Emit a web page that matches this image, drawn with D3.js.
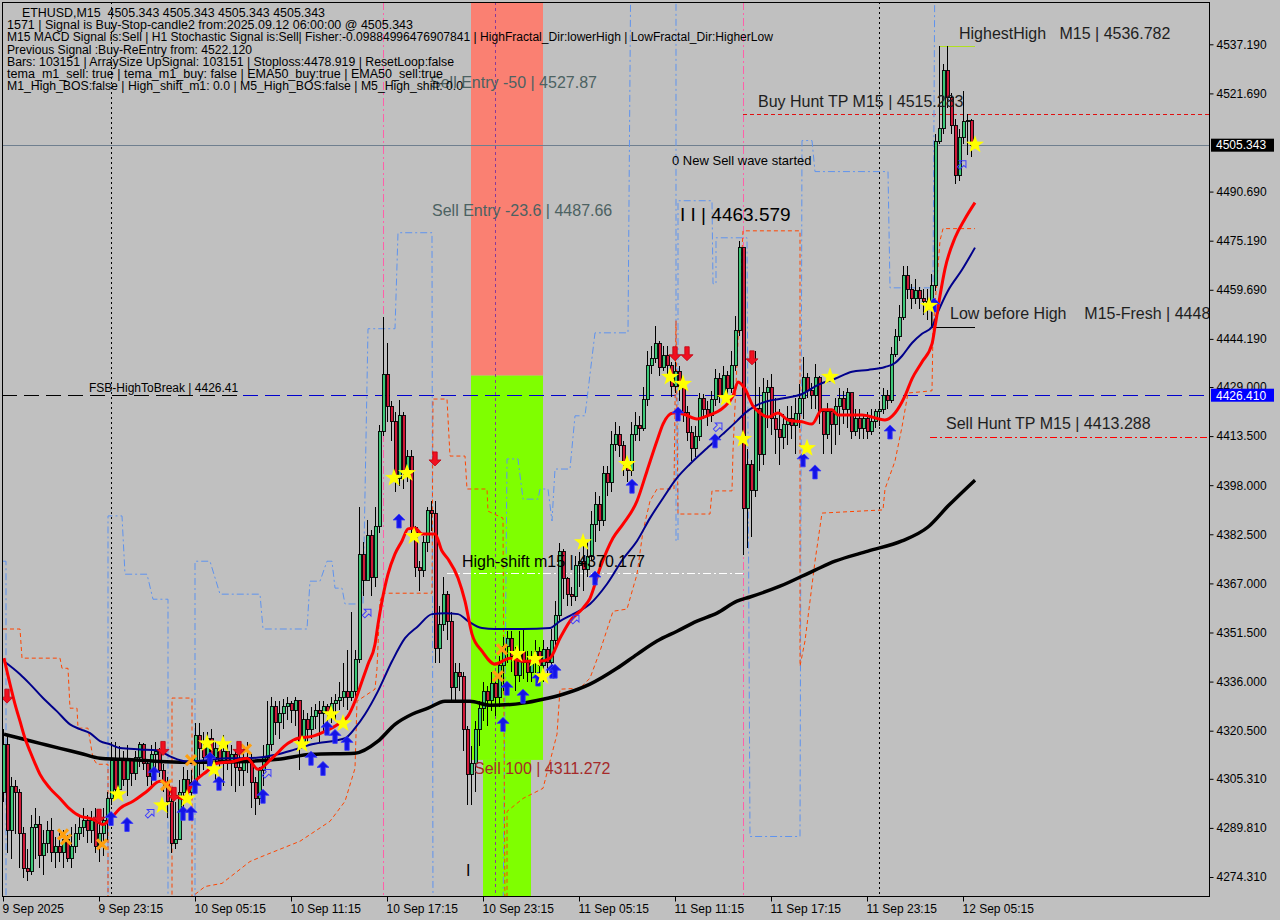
<!DOCTYPE html>
<html><head><meta charset="utf-8"><title>ETHUSD,M15</title>
<script src="https://cdn.jsdelivr.net/npm/d3@7/dist/d3.min.js"></script>
<style>
html,body{margin:0;padding:0;background:#c0c0c0;overflow:hidden}
svg{display:block}
text{font-family:"Liberation Sans",Arial,sans-serif;white-space:pre}
</style></head><body>
<svg id="chart" width="1280" height="920"></svg>
<script>
// ---------------- DATA ----------------
const timeTickBars = [0,24,48,72,96,120,144,168,192,216,240];
const timeTickLabels = ["9 Sep 2025","9 Sep 23:15","10 Sep 05:15","10 Sep 11:15","10 Sep 17:15","10 Sep 23:15","11 Sep 05:15","11 Sep 11:15","11 Sep 17:15","11 Sep 23:15","12 Sep 05:15"];
const priceTicks = [4537.19,4521.69,4490.69,4475.19,4459.69,4444.19,4429.0,4413.5,4398.0,4382.5,4367.0,4351.5,4336.0,4320.5,4305.31,4289.81,4274.31];
const lastPrice = 4505.343;
const fsbLevel = 4426.41;
const buyHuntTP = 4515.283;
const sellHuntTP = 4413.288;
const highShift = 4370.177;
const highestHigh = 4536.782;
const lowBeforeHigh = 4448;
const sell100 = 4311.272;
const zoneSplit = 4432.6;

const firstOpen = 4301;
const closes = [4316,4289,4303,4301,4288,4277,4276,4290,4291,4281,4285,4289,4282,4284,4282,4286,4280,4284,4288,4290,
4292,4289,4292,4284,4288,4292,4299,4311,4302,4311,4305,4311,4307,4312,4316,4310,4306,4313,4314,4308,
4304,4298,4285,4286,4301,4305,4301,4304,4319,4315,4312,4318,4312,4315,4311,4314,4311,4313,4309,4308,
4312,4311,4304,4299,4308,4312,4316,4328,4323,4326,4328,4329,4327,4330,4317,4324,4321,4325,4327,4326,
4328,4326,4329,4330,4331,4333,4331,4333,4343,4376,4368,4382,4369,4385,4415,4433,4423,4418,4400,4420,
4402,4407,4384.5,4372,4371,4380,4390,4389,4346.5,4354,4363.6,4355,4334,4339,4337.5,4321,4306.7,4310,4321,4327.6,
4333,4330,4335.5,4331,4341,4347,4349.7,4344,4338,4345.6,4342,4339,4343,4345.6,4341,4346,4342,4349,4357,4377,
4368.7,4363.6,4363,4372.5,4374,4371.5,4375.6,4385.7,4392,4386.7,4401.8,4398.7,4411,4414,4410.4,4405.6,4402.5,4414,4417,4415.8,
4425,4435.7,4437.9,4442.6,4435,4438.8,4435.7,4429.3,4434,4429.3,4420.8,4414.5,4409.7,4413.5,4425.5,4422,4419.9,4425,4431.6,4426,
4432.5,4428.4,4435.7,4446.7,4473,4390.8,4404.5,4396.4,4422.2,4407.7,4427.4,4428.9,4419,4415.7,4413.1,4417.3,4419,4416.7,4420.6,4425.5,
4432,4427.8,4426.4,4432,4421.2,4414.1,4421.2,4417.3,4423,4425.5,4422,4427.2,4414.9,4419,4415.9,4419,4414.9,4418,4421.2,4422,
4426.4,4424.8,4439.4,4445,4451,4464.2,4459.9,4456.8,4459.4,4456.8,4456.1,4453.5,4460.9,4506.6,4510.5,4528.9,4520.3,4511.5,4495.8,4507.8,
4512.7,4513,4505.343];
const highs = [4321,4319,4306,4305,4302,4290,4283,4294,4296,4293.5,4289,4292,4293,4287,4289,4289,4287.5,4290,4291,4294,
4296,4294,4295,4296,4292.5,4296,4301,4317,4317,4315.6,4314,4316,4312,4314,4317,4316.5,4311.5,4316,4317,4315,
4310,4306,4300,4298,4305,4309,4308,4308,4323,4323,4320,4320,4321,4317,4317,4319,4317,4316,4314,4314,
4316,4317,4313,4306,4309,4316,4330,4331,4330,4330,4330.4,4331,4330,4331,4329,4327,4326,4328,4329,4330,
4330,4329,4331,4332,4336,4342,4346,4358,4346,4391,4380,4387,4384,4391,4417,4451,4443,4424.6,4421,4425,
4421,4409,4409,4385,4374,4382,4391,4393,4393,4360,4369,4364.6,4358,4342,4342,4339,4322,4315.6,4323.5,4330,
4336,4334.5,4339,4336,4344,4350,4352,4352,4347,4352,4352.6,4345.6,4345.6,4349,4347,4349,4347,4352.6,4361.4,4379.7,
4377.8,4369,4366,4375.6,4377,4378.8,4380,4390,4396,4394.6,4404,4404,4415,4418,4416.7,4412,4407,4418,4421,4420,
4429,4440.4,4442,4448.3,4443.6,4442,4442,4437,4437,4435.7,4431.5,4423,4416.7,4416.7,4427,4426.8,4424.6,4427.8,4434.7,4433.5,
4435.7,4434,4440.4,4451.5,4475,4473,4409.3,4406,4440.4,4428.9,4432,4431.1,4433,4425.5,4422,4420.6,4423,4423,4425.5,4429.8,
4438.6,4433.5,4430.2,4436.2,4432.6,4422,4423.8,4422,4425.5,4428.7,4427.8,4428.7,4427.2,4422,4422,4420.6,4421.2,4422,4422,4424.5,
4428.7,4428,4441.5,4447.3,4455,4467.2,4467.2,4461.5,4463.2,4460.5,4459.9,4459.9,4464.7,4508.9,4536.8,4531,4536.5,4521.9,4513.7,4510.5,
4522.5,4515.3,4513.7];
const lows = [4298,4282,4280,4288,4277,4274,4273,4275,4280,4277,4275,4282,4279,4277,4279,4277,4279,4277,4282,4286,
4287,4285,4285,4282,4279,4281,4285.6,4297,4300,4300,4303,4300,4303,4305,4309,4308,4303,4302,4308,4306,
4301,4293,4282,4283,4286,4295,4298,4300,4301,4306,4308,4309,4308,4305,4309,4303,4308,4303,4301,4303,
4303,4307,4296,4294,4297,4303,4311,4314,4319,4318,4321,4324,4323,4322,4308,4315,4317,4318,4321,4317,
4320,4322,4323,4324,4327,4328,4327,4330,4330,4342,4363,4368,4363,4366,4383,4413.5,4418,4412,4396,4397.7,
4396.8,4399,4382,4369,4364.6,4369,4377,4383.5,4342,4342,4352,4349,4330,4330,4333,4314,4297,4297,4301,4315.6,
4323.5,4322,4326.6,4325,4328,4333,4342,4339,4333,4336,4336.8,4336,4336,4338.6,4334.5,4336,4338.6,4340,4345.6,4355,
4362,4359.8,4360,4361.4,4366,4364.6,4369,4374,4380,4383.5,4385,4394.6,4396,4408.8,4407,4401,4399,4401,4412,4412,
4415,4423,4433,4436.6,4432.5,4434,4431,4426,4427,4424.6,4418,4412,4405.6,4407,4412,4419,4416.7,4418,4423,4424,
4425.2,4425.9,4427,4434,4445,4376,4378.3,4381.7,4394.3,4402.6,4404.3,4415.9,4414,4407.7,4404.3,4409.3,4410.8,4412.6,4407.7,4415.9,
4419,4425.5,4422,4422,4417.3,4407.7,4412.6,4407.7,4410.8,4413.9,4417.3,4415.9,4412.6,4413.6,4412.6,4412.6,4412.6,4413.9,4415.9,4416.7,
4420.6,4422,4423.8,4438.5,4443.5,4450.2,4456.9,4453.5,4455.2,4453.5,4451.8,4450.2,4448,4459.3,4505.8,4508.9,4517,4508.9,4493.2,4494.1,
4505.8,4502.3,4501.5];

// moving averages: [bar, price]
const emaFast = [[0.25,4343.4],[1.75,4335.2],[3,4328.9],[4.25,4323.5],[5.5,4318.1],[6.75,4314.0],[8,4310.2],[9.25,4306.7],[11.75,4302.3],[14.25,4299.1],
[16.75,4295.7],[19.25,4293.5],[21.75,4292.8],[23.5,4291.9],[25,4290.9],[26.75,4292.5],[29.25,4296.0],[32.5,4298.2],[36,4301.4],[39.25,4304.5],
[41,4303.9],[42.5,4300.4],[45,4299.1],[47.5,4303.9],[51,4307.7],[53.5,4310.2],[57.5,4310.8],[61,4311.8],[63.75,4308.3],[67.25,4311.8],
[71.25,4316.5],[73.75,4318.1],[77.25,4318.7],[80.5,4320.3],[83.75,4322.5],[86.25,4325.1],[88,4329.8],[89.75,4336.1],[91.25,4341.5],[93,4347.8],
[93.75,4354.1],[94.75,4361.4],[96.25,4369.9],[98,4376.3],[99.75,4380.4],[101.25,4384.2],[103,4384.5],[104.75,4382.6],[108,4382.6],[109.75,4377.2],
[111.25,4374.7],[113.75,4368.7],[115.5,4361.4],[117.25,4351.0],[119.75,4345.6],[123,4341.5],[126.75,4343.4],[130,4342.4],[134.25,4342.4],[136.75,4343.4],
[139.25,4349.7],[141.75,4355.1],[145,4359.2],[146.75,4362.3],[149.25,4371.8],[152.5,4381.3],[155,4385.7],[158.5,4393.0],[161,4402.5],[163.5,4412.0],
[165,4417.3],[167.5,4420.8],[170,4420.5],[173.5,4418.9],[176,4419.9],[180,4422.4],[182.5,4426.2],[183.75,4430.6],[185.5,4428.4],[187.5,4423.0],
[189.25,4420.8],[191.25,4419.5],[193.75,4420.8],[196.25,4418.6],[199.75,4418.0],[202.25,4417.3],[204.75,4421.8],[207.25,4421.8],[208.75,4420.2],[214.75,4420.2],
[220.5,4418.6],[223,4420.8],[225.5,4426.2],[227.25,4431.6],[229.75,4436.9],[232.25,4442.6],[233,4448.0],[234.25,4457.8],[235.5,4466.3],[238,4476.1],
[240.5,4482.1],[243,4487.2]];
const ema50 = [[0.25,4342.4],[4.25,4338.3],[6.75,4335.2],[10,4330.8],[13.5,4326.6],[16.75,4322.5],[19.25,4321.0],[21.75,4319.7],[24.25,4317.2],[26.75,4316.2],
[29.25,4315.0],[34.25,4314.6],[38.5,4314.3],[41.75,4312.4],[46,4310.8],[51,4311.2],[56,4311.8],[61,4311.8],[68.75,4313.05],[73,4314.6],
[77.25,4316.2],[85.5,4318.1],[88,4321.3],[90.5,4325.7],[93.75,4333.0],[97.25,4342.4],[100.5,4349.7],[103.75,4353.5],[107.25,4357.3],[110.5,4357.6],
[113.75,4357.3],[116.25,4355.1],[119.75,4352.9],[123,4352.6],[130,4352.6],[136.75,4352.9],[139.25,4355.1],[142.5,4357.3],[146.75,4360.5],[151,4366.8],
[155,4374.7],[158.5,4380.4],[161.75,4387.6],[165,4393.9],[168.5,4400.3],[171.75,4404.7],[176,4409.7],[180,4414.2],[183.5,4418.3],[185.5,4420.8],
[188,4423.0],[191.25,4424.6],[195.5,4425.5],[199.75,4426.8],[203.75,4429.7],[208,4431.6],[212.25,4433.8],[216.25,4434.4],[220.5,4435.3],[223,4436.6],
[224.75,4438.8],[227.25,4442.9],[229.75,4445.8],[232.25,4448.0],[233.75,4452.7],[236.25,4459.4],[239.75,4466.0],[243,4473.0]];
const ema200 = [[0.25,4319.4],[4.25,4318.1],[9.25,4316.5],[14.25,4314.9],[19.25,4313.4],[24.25,4311.8],[29.25,4311.5],[34.25,4311.2],[39.25,4310.8],[49.25,4310.5],
[61,4310.8],[68.75,4311.5],[77.25,4313.05],[88,4313.4],[93.75,4317.2],[98,4322.5],[102.25,4325.7],[106.25,4327.6],[110.5,4329.8],[116.75,4329.8],
[121.75,4328.5],[130,4329.2],[135,4330.4],[140,4332.0],[146.75,4335.2],[153.5,4340.2],[158.5,4344.6],[163.5,4348.8],[168.5,4351.9],[173.5,4355.1],
[178.5,4357.6],[183.5,4361.4],[186.75,4362.7],[194.25,4366.1],[203,4371.2],[208,4374.0],[216.25,4377.2],[224.75,4380.4],[231.25,4384.8],[236.25,4391.4],
[243,4399.6]];

// channel step lines: [bar, price] (values outside the window run off the chart)
const upperBand = [[0,4374.0],[0.75,4374.0],[0.75,4260],[26.25,4260],[26.25,4388.3],[29.75,4388.3],[30.5,4369.9],[36,4369.9],[37.5,4362.0],[41.25,4362.0],
[41.25,4260],[48,4260],[48,4374.0],[51.75,4374.0],[54.25,4363.6],[64.25,4363.6],[65,4352.6],[76,4352.6],[76.75,4367.7],[79.25,4367.7],
[81,4374.0],[82.25,4374.0],[83,4365.5],[84.75,4365.5],[85.5,4360.5],[90,4360.5],[91.25,4447.4],[98,4447.4],[98.75,4477.7],[107.25,4477.7],
[107.5,4260],[125,4260],[126,4406.3],[128.75,4406.3],[130,4393.6],[133.75,4393.6],[134.25,4396.8],[136.25,4396.8],[137.25,4386.7],[138,4403.1],
[141.75,4403.1],[143,4419.9],[145.5,4419.9],[148,4446.1],[156.25,4446.1],[157,4570],[168.25,4570],[168.25,4380.4],[168.75,4380.4],[168.75,4487.8],
[177.25,4487.8],[177.5,4461.6],[178.25,4461.6],[178.25,4476.1],[186,4476.1],[186.75,4287.1],[199.25,4287.1],[199.75,4506.8],[202.25,4506.8],[203,4497.0],
[221.25,4497.0],[221.75,4460.3],[232.5,4460.3],[233,4570],[243,4570]];
const lowerBand = [[0,4352.6],[4.25,4352.6],[4.75,4343.4],[14.25,4343.4],[14.75,4340.2],[16.25,4340.2],[16.75,4327.6],[18.5,4327.6],[18.75,4321.3],[21.25,4321.3],
[22.5,4311.8],[23.5,4309.9],[26.25,4309.9],[26.25,4260],[42.25,4260],[42.25,4330.8],[47.25,4330.8],[47.25,4260],[48,4268.8],[50.5,4271.3],
[54.75,4272.3],[61.75,4279.2],[64.75,4280.8],[74.25,4285.6],[81.75,4291.9],[85.5,4298.2],[88,4308.6],[88.5,4329.8],[93,4333.6],[93.5,4340.2],
[94.25,4361.4],[95,4363.9],[107.25,4363.9],[107.5,4425.2],[111,4425.2],[111.75,4407.2],[115.5,4407.2],[116,4396.8],[121,4396.8],[121.25,4389.8],
[125,4387.6],[125.5,4260],[126,4260],[126,4295.0],[130,4299.1],[135,4302.3],[136.75,4310.8],[138.5,4319.4],[139.25,4333.6],[144.25,4333.9],
[146.75,4337.1],[149.25,4345.6],[152.5,4358.2],[156,4358.9],[158.5,4369.9],[160,4383.5],[161.75,4393.0],[163.5,4396.8],[167.75,4396.8],[168.25,4449.9],
[168.75,4388.9],[176.75,4388.9],[177.25,4396.2],[182.25,4396.2],[182.5,4408.8],[185,4478.3],[199.25,4478.3],[199.25,4340.9],[200.5,4348.8],[203,4374.0],
[204.75,4389.2],[220,4390.2],[220.5,4396.8],[223,4405.6],[224.75,4416.4],[226.25,4427.1],[232.25,4427.8],[232.5,4446.7],[234.25,4475.2],[235,4479.0],
[243,4479.0]];

// signal markers: [bar, price]
const stars = [[28.75,4300.4],[39.75,4296.9],[46,4299.1],[51,4316.5],[55,4316.2],[52.75,4308.3],[74.75,4316.2],[82,4325.7],[85,4322.8],[97.75,4400.3],
[101,4401.8],[102.75,4381.9],[128.5,4344.7],[133,4343.1],[135,4337.7],[145,4380.0],[156,4404.7],[166.75,4432.2],[170,4430.0],[180.75,4425.5],
[185,4412.6],[201,4409.7],[206.75,4432.2],[231.5,4454.6],[243,4505.5]];
const crosses = [[15,4287.8],[15.75,4286.2],[24.75,4284.6],[40.75,4303.3],[47,4311.2],[60.75,4314.6],[123.75,4337.7],[124.75,4346.2]];
const upArrows = [[27,4292.8],[31,4290.9],[37.75,4307.0],[45,4294.4],[47,4294.4],[48,4302.9],[51.75,4311.5],[54,4303.9],[65,4299.8],[77,4311.8],
[80,4308.6],[81,4321.3],[83,4318.7],[86,4316.5],[99,4386.7],[125,4322.5],[126,4333.9],[130,4331.4],[133.75,4336.8],[137.25,4339.3],
[138,4339.3],[148,4368.7],[157.25,4397.7],[168.75,4420.5],[178,4412.0],[200,4406.0],[203,4402.2],[221.75,4414.8],[232.75,4454.9]];
const downArrows = [[1,4331.4],[24,4293.5],[40,4314.9],[42.75,4300.4],[59,4314.9],[108,4406.3],[168,4439.5],[171,4439.5],[187.25,4438.2]];
const hollowArrows = [[36.75,4294.4],[66,4307.0],[91,4357.6],[143,4355.7],[178.75,4416.4],[239.75,4499.2]];

const vLineBars = [27,95,123,185,219];
const headerLines = [
 "ETHUSD,M15  4505.343 4505.343 4505.343 4505.343",
 "1571 | Signal is Buy-Stop-candle2 from:2025.09.12 06:00:00 @ 4505.343",
 "M15 MACD Signal is:Sell | H1 Stochastic Signal is:Sell| Fisher:-0.09884996476907841 | HighFractal_Dir:lowerHigh | LowFractal_Dir:HigherLow",
 "Previous Signal :Buy-ReEntry from: 4522.120",
 "Bars: 103151 | ArraySize UpSignal: 103151 | Stoploss:4478.919 | ResetLoop:false",
 "tema_m1_sell: true | tema_m1_buy: false | EMA50_buy:true | EMA50_sell:true",
 "M1_High_BOS:false | High_shift_m1: 0.0 | M5_High_BOS:false | M5_High_shift: 0.0"
];

// ---------------- DRAWING ----------------
const svg = d3.select("#chart");
const P = {l:2, r:1209, t:2, b:896};
const x = d3.scaleLinear().domain([0,242]).range([3,971]);
const y = d3.scaleLinear().domain([4274.31,4537.19]).range([877,44.3]);

svg.append("rect").attr("width",1280).attr("height",920).attr("fill","#c0c0c0");
svg.append("defs").append("clipPath").attr("id","plotclip").append("rect")
  .attr("x",P.l).attr("y",P.t).attr("width",P.r-P.l).attr("height",P.b-P.t);
const g = svg.append("g").attr("clip-path","url(#plotclip)");

// zones
g.append("rect").attr("x",x(117)).attr("width",x(135)-x(117)).attr("y",y(4560)).attr("height",y(zoneSplit)-y(4560)).attr("fill","#fa8072");
g.append("rect").attr("x",x(117)).attr("width",x(135)-x(117)).attr("y",y(zoneSplit)).attr("height",y(sell100)-y(zoneSplit)).attr("fill","#7fff00");
g.append("rect").attr("x",x(120)).attr("width",x(132)-x(120)).attr("y",y(sell100)).attr("height",y(4250)-y(sell100)).attr("fill","#7fff00");

// vertical lines
const vStyles = [
 {c:"#000000",d:"2,3"},{c:"#ff5fa8",d:"8,3,2,3"},{c:"#8a3a9a",d:"3,3"},{c:"#ff5fa8",d:"8,3,2,3"},{c:"#000000",d:"2,3"}];
vLineBars.forEach((b,i)=>{
  g.append("line").attr("x1",x(b)+0.5).attr("x2",x(b)+0.5).attr("y1",P.t).attr("y2",P.b)
   .attr("stroke",vStyles[i].c).attr("stroke-width",1).attr("stroke-dasharray",vStyles[i].d);
});

// horizontal levels
function hline(p, b0, b1, color, dash, w){
  g.append("line").attr("x1",b0===null?P.l:x(b0)).attr("x2",b1===null?P.r:x(b1))
   .attr("y1",Math.round(y(p))+0.5).attr("y2",Math.round(y(p))+0.5)
   .attr("stroke",color).attr("stroke-width",w||1).attr("stroke-dasharray",dash||null);
}
hline(lastPrice,null,null,"#6f7f8f");
hline(fsbLevel,null,60,"#000000","15,7");
hline(fsbLevel,60,null,"#0000cd","15,7");
hline(buyHuntTP,185,null,"#e01010","4,3");
hline(sellHuntTP,231.75,null,"#ff0000","7,3,2,3");
hline(highShift,111,185,"#ffffff","8,3,2,3");
hline(highestHigh,234.25,243,"#b0e020");
hline(lowBeforeHigh,232.25,243,"#000000");
g.append("line").attr("x1",x(232.25)).attr("x2",x(232.25)).attr("y1",y(lowBeforeHigh)-22).attr("y2",y(lowBeforeHigh)).attr("stroke","#000");

// channel lines
const lineGen = d3.line().x(d=>x(d[0])).y(d=>y(d[1]));
g.append("path").attr("d",lineGen(upperBand)).attr("fill","none").attr("stroke","#5f93ee").attr("stroke-width",1).attr("stroke-dasharray","7,3,2,3");
g.append("path").attr("d",lineGen(lowerBand)).attr("fill","none").attr("stroke","#ff4500").attr("stroke-width",1).attr("stroke-dasharray","4,3");

// candles
const cg = g.append("g");
closes.forEach((c,i)=>{
  const o = i===0 ? firstOpen : closes[i-1];
  const hi = Math.max(highs[i],o,c), lo = Math.min(lows[i],o,c);
  const xc = Math.round(x(i));
  cg.append("line").attr("x1",xc+0.5).attr("x2",xc+0.5).attr("y1",y(hi)).attr("y2",y(lo))
    .attr("stroke","#000").attr("stroke-width",1).attr("shape-rendering","crispEdges");
  const top = y(Math.max(o,c)), h = Math.max(1, Math.abs(y(o)-y(c)));
  cg.append("rect").attr("x",xc-1).attr("width",3).attr("y",top).attr("height",h)
    .attr("fill", c>=o ? "#3cc878" : "#d01838").attr("stroke","#000").attr("stroke-width",0.9)
    .attr("shape-rendering","crispEdges");
});

// moving averages
const smooth = d3.line().x(d=>x(d[0])).y(d=>y(d[1])).curve(d3.curveMonotoneX);
g.append("path").attr("d",smooth(ema200)).attr("fill","none").attr("stroke","#000").attr("stroke-width",3.5);
g.append("path").attr("d",smooth(ema50)).attr("fill","none").attr("stroke","#00008b").attr("stroke-width",2);
g.append("path").attr("d",smooth(emaFast)).attr("fill","none").attr("stroke","#ff0000").attr("stroke-width",3);

// markers
const mg = g.append("g");
const starPath = (()=>{ let pts=[]; for(let k=0;k<10;k++){const r=k%2?3.8:9.5; const a=-Math.PI/2+k*Math.PI/5; pts.push([r*Math.cos(a),r*Math.sin(a)]);} return "M"+pts.map(p=>p.join(",")).join("L")+"Z"; })();
const upPath = "M0,-7L6,-1L2.2,-1L2.2,7L-2.2,7L-2.2,-1L-6,-1Z";
const downPath = "M0,7L6,1L2.2,1L2.2,-7L-2.2,-7L-2.2,1L-6,1Z";
const hollowPath = "M0,-7L6,-1L2.2,-1L2.2,6L-2.2,6L-2.2,-1L-6,-1Z";
crosses.forEach(d=>{
  const cx=x(d[0]), cy=y(d[1]);
  mg.append("path").attr("d",`M${cx-5},${cy-5}L${cx+5},${cy+5}M${cx+5},${cy-5}L${cx-5},${cy+5}`)
    .attr("stroke","#ffa010").attr("stroke-width",3.2).attr("fill","none");
});
upArrows.forEach(d=>{
  mg.append("path").attr("d",upPath).attr("transform",`translate(${x(d[0])},${y(d[1])})`)
    .attr("fill","#1414e6").attr("stroke","#3a3aff").attr("stroke-width",0.8);
});
downArrows.forEach(d=>{
  mg.append("path").attr("d",downPath).attr("transform",`translate(${x(d[0])},${y(d[1])})`)
    .attr("fill","#f01020").attr("stroke","#c00010").attr("stroke-width",0.8);
});
hollowArrows.forEach(d=>{
  mg.append("path").attr("d",hollowPath).attr("transform",`translate(${x(d[0])},${y(d[1])}) rotate(45) scale(0.8)`)
    .attr("fill","none").attr("stroke","#3c3cff").attr("stroke-width",1.2);
});
stars.forEach(d=>{
  mg.append("path").attr("d",starPath).attr("transform",`translate(${x(d[0])},${y(d[1])})`).attr("fill","#ffff00");
});

// annotation texts: [text, bar, price, size, color]
const notes = [
 ["Sell Entry -50 | 4527.87",106.75,4523.55,16,"#4c6262"],
 ["Sell Entry -23.6 | 4487.66",107.25,4483.14,16,"#4c6262"],
 ["I I | 4463.579",169.25,4481.4,19,"#000"],
 ["0 New Sell wave started",167.25,4499.1,13,"#000"],
 ["Buy Hunt TP M15 | 4515.283",188.75,4517.55,16,"#1e1e1e"],
 ["HighestHigh   M15 | 4536.782",239,4539.0,16,"#1e1e1e"],
 ["Low before High    M15-Fresh | 4448",236.75,4450.6,16,"#1e1e1e"],
 ["Sell Hunt TP M15 | 4413.288",235.75,4415.6,16,"#1e1e1e"],
 ["FSB-HighToBreak | 4426.41",21.5,4427.3,12,"#000"],
 ["High-shift m15 | 4370.177",114.75,4372.3,16,"#000"],
 ["Sell 100 | 4311.272",117.75,4306.7,16,"#a52a2a"],
 ["I",115.75,4274.6,16,"#000"]
];
notes.forEach(n=>{
  g.append("text").attr("x",x(n[1])).attr("y",y(n[2])).attr("font-size",n[3]).attr("fill",n[4])
   .attr("xml:space","preserve").text(n[0]);
});

// header comment
const hdrWidths = [303,406,766,245,447,436,456];
headerLines.forEach((t,i)=>{
  svg.append("text").attr("x", i===0?22:7).attr("y",17+i*12.2).attr("font-size",12).attr("fill","#000")
    .attr("xml:space","preserve")
    .attr("textLength",hdrWidths[i]).attr("lengthAdjust","spacingAndGlyphs").text(t);
});

// frame
svg.append("rect").attr("x",P.l+0.5).attr("y",P.t+0.5).attr("width",P.r-P.l).attr("height",P.b-P.t)
  .attr("fill","none").attr("stroke","#000").attr("stroke-width",1);

// axes
const ya = svg.append("g").attr("transform",`translate(${P.r+0.5},0)`)
  .call(d3.axisRight(y).tickValues(priceTicks).tickFormat(d3.format(".3f")).tickSize(4).tickPadding(3));
ya.select(".domain").remove();
ya.selectAll("text").attr("font-size",12).attr("font-family","Liberation Sans, Arial, sans-serif").attr("fill","#000");
ya.selectAll("line").attr("stroke","#000");

const xa = svg.append("g").attr("transform",`translate(0,${P.b+0.5})`)
  .call(d3.axisBottom(x).tickValues(timeTickBars).tickFormat((d,i)=>timeTickLabels[i]).tickSize(5));
xa.select(".domain").remove();
xa.selectAll("text").attr("font-size",12).attr("font-family","Liberation Sans, Arial, sans-serif").attr("fill","#000")
  .attr("text-anchor","start").attr("x",-1).attr("y",16).attr("dy",null);
xa.selectAll("line").attr("stroke","#000");

// price tags (the blue tag covers the 4429.000 label, as on the original)
function tag(p, bg){
  const yy = y(p);
  svg.append("rect").attr("x",1211).attr("y",yy-6.5).attr("width",63).attr("height",13).attr("fill",bg);
  svg.append("text").attr("x",1216).attr("y",yy+4.3).attr("font-size",12).attr("fill","#fff").text(p.toFixed(3));
}
tag(lastPrice,"#000000");
tag(fsbLevel,"#0000ff");
</script>
</body></html>
